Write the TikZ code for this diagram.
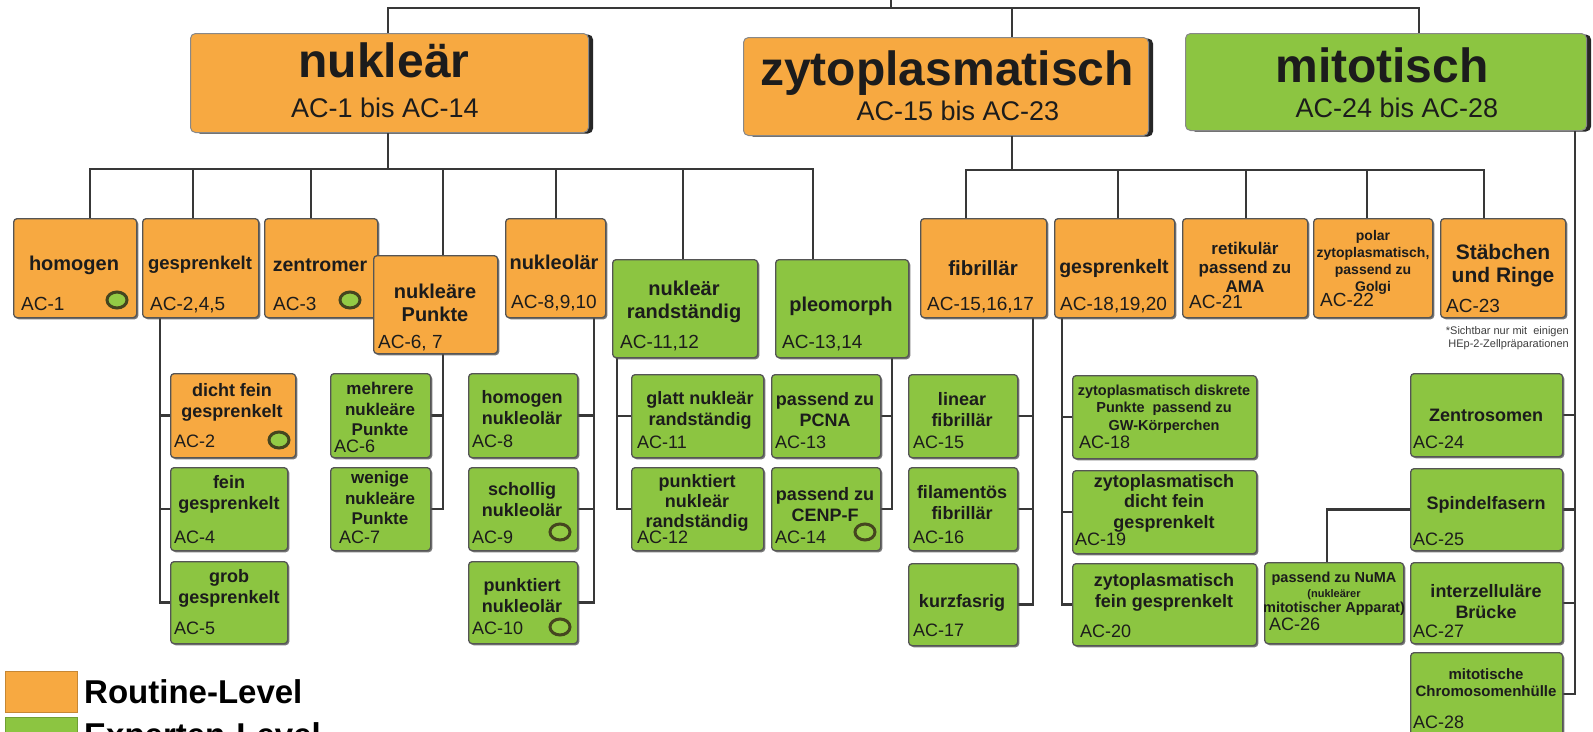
\documentclass[tikz,border=0pt]{standalone}
\usepackage{fontspec}
\setmainfont{Liberation Sans}
\usetikzlibrary{shadows,shapes.geometric}
\pgfdeclarelayer{bg}
\pgfsetlayers{bg,main}
\definecolor{orng}{HTML}{F7A941}
\definecolor{grn}{HTML}{8CC541}
\definecolor{dotg}{HTML}{93CB45}
\definecolor{lineg}{HTML}{383838}
\definecolor{edge}{HTML}{555555}
\definecolor{ring}{HTML}{45451F}
\definecolor{txt}{HTML}{1C1C1C}
\newcommand\fz[2]{\fontsize{#1}{#2}\selectfont}
\newcommand\tf[2]{\fontsize{#1}{#2}\selectfont\bfseries}
\newcommand\bx[6]{\node[#6,minimum width={#4-#2},minimum height={#5-#3},anchor=north west] (#1) at (#2,#3) {};}
\begin{document}
\begin{tikzpicture}[x=1pt,y=-1pt,
  conn/.style={draw=lineg,line width=2.5pt,line cap=rect},
  cbox/.style={draw=edge,line width=1.3pt,rounded corners=3.5pt,inner sep=0pt,
    drop shadow={shadow xshift=1.6pt,shadow yshift=-1.6pt,fill=black!70,opacity=.75}},
  ob/.style={cbox,fill=orng}, gb/.style={cbox,fill=grn},
  tbox/.style={draw=edge!70,line width=1pt,rounded corners=5pt,inner sep=0pt,
    drop shadow={shadow xshift=4.5pt,shadow yshift=-1pt,fill=black!85,opacity=1}},
  otb/.style={tbox,fill=orng}, gtb/.style={tbox,fill=grn},
  big/.style={font=\tf{48}{50},text=txt,inner sep=0pt,anchor=base},
  rng/.style={font=\fz{27}{30},text=txt,inner sep=0pt,anchor=base},
  ttl/.style={text=txt,inner sep=0pt,align=center},
  ac/.style={font=\fz{18}{20},text=txt,inner sep=0pt,anchor=base west},
  ac1/.style={ac,font=\fz{19}{21}},
  dot/.style={ellipse,draw=ring,line width=3pt,fill=dotg,minimum width=20pt,minimum height=16pt,inner sep=0pt},
  legbox/.style={minimum width=72pt,minimum height=41pt,anchor=north west,inner sep=0pt,line width=.6pt},
  legtxt/.style={font=\tf{33}{36},text=black,anchor=base west,inner sep=0pt}
]
\useasboundingbox (0,0) rectangle (1593,731);
\clip (0,0) rectangle (1593,731);

% ---------- top level ----------
\bx{nuk}{190}{33}{588}{132}{otb}
\bx{zyt}{743}{37}{1148}{135}{otb}
\bx{mit}{1185}{33}{1586}{130}{gtb}
\node[big] (nuk-t) at (384,77) {nukleär};
\node[rng] (nuk-a) at (385,117) {AC-1 bis AC-14};
\node[big] (zyt-t) at (947,85) {zytoplasmatisch};
\node[rng] (zyt-a) at (958,120) {AC-15 bis AC-23};
\node[big] (mit-t) at (1382,82) {mitotisch};
\node[rng] (mit-a) at (1397,117) {AC-24 bis AC-28};

% ---------- first row ----------
\bx{hom}{13}{218}{136}{317}{ob}
\bx{gsp}{142}{218}{258}{317}{ob}
\bx{zen}{264}{218}{377}{317}{ob}
\bx{npk}{373}{255}{497}{353}{ob}
\bx{nol}{505}{218}{605}{317}{ob}
\bx{nrd}{612}{259}{757}{357}{gb}
\bx{ple}{775}{259}{908}{357}{gb}
\bx{fib}{920}{218}{1046}{317}{ob}
\bx{gs2}{1054}{218}{1174}{317}{ob}
\bx{ret}{1182}{218}{1307}{317}{ob}
\bx{pol}{1313}{218}{1432}{317}{ob}
\bx{stb}{1440}{218}{1565}{317}{ob}

\node[ttl,font=\tf{20}{23}] (hom-t) at (74,265) {homogen};
\node[ttl,font=\tf{18.5}{21}] (gsp-t) at (200,265) {gesprenkelt};
\node[ttl,font=\tf{19.5}{22}] (zen-t) at (320,265) {zentromer};
\node[ttl,font=\tf{20}{23}] (npk-t) at (435,303) {nukleäre\\Punkte};
\node[ttl,font=\tf{20}{23}] (nol-t) at (554,262) {nukleolär};
\node[ttl,font=\tf{20}{23}] (nrd-t) at (684,302) {nukleär\\randständig};
\node[ttl,font=\tf{20}{23}] (ple-t) at (841,306) {pleomorph};
\node[ttl,font=\tf{20.5}{23}] (fib-t) at (983,268) {fibrillär};
\node[ttl,font=\tf{19.5}{22}] (gs2-t) at (1114,268) {gesprenkelt};
\node[ttl,font=\tf{17}{19}] (ret-t) at (1245,267) {retikulär\\passend zu\\AMA};
\node[ttl,font=\tf{14}{17}] (pol-t) at (1373,262) {polar\\zytoplasmatisch,\\passend zu\\Golgi};
\node[ttl,font=\tf{21}{23}] (stb-t) at (1503,266) {Stäbchen\\und Ringe};

\node[ac1] (hom-a) at (21,310) {AC-1};
\node[ac1] (gsp-a) at (150,310) {AC-2,4,5};
\node[ac1] (zen-a) at (273,310) {AC-3};
\node[ac1] (npk-a) at (378,348) {AC-6, 7};
\node[ac1] (nol-a) at (511,308) {AC-8,9,10};
\node[ac1] (nrd-a) at (620,348) {AC-11,12};
\node[ac1] (ple-a) at (782,348) {AC-13,14};
\node[ac1] (fib-a) at (927,310) {AC-15,16,17};
\node[ac1] (gs2-a) at (1060,310) {AC-18,19,20};
\node[ac1] (ret-a) at (1189,308) {AC-21};
\node[ac1] (pol-a) at (1320,306) {AC-22};
\node[ac1] (stb-a) at (1446,312) {AC-23};

\node[inner sep=0pt,anchor=north east,align=right,font=\fz{11}{13.5},text=txt!85] (fn) at (1569,326) {*Sichtbar nur mit\ \ einigen\\HEp-2-Zellpräparationen};

% ---------- sub boxes ----------
\bx{dfg}{170}{373}{295}{457}{ob}
\bx{ffg}{170}{467}{287}{550}{gb}
\bx{gfg}{170}{561}{287}{643}{gb}
\bx{mnp}{330}{373}{430}{457}{gb}
\bx{wnp}{330}{467}{430}{550}{gb}
\bx{hno}{468}{373}{577}{457}{gb}
\bx{sno}{468}{467}{577}{550}{gb}
\bx{pno}{468}{561}{577}{643}{gb}
\bx{gnr}{631}{374}{763}{457}{gb}
\bx{pnr}{631}{467}{763}{550}{gb}
\bx{pcn}{771}{374}{880}{457}{gb}
\bx{cen}{771}{467}{880}{550}{gb}
\bx{lfi}{908}{374}{1017}{457}{gb}
\bx{ffi}{908}{467}{1017}{550}{gb}
\bx{kfs}{908}{563}{1017}{645}{gb}
\bx{zdp}{1072}{375}{1256}{458}{gb}
\bx{zdf}{1072}{470}{1256}{553}{gb}
\bx{zfg}{1072}{563}{1256}{645}{gb}
\bx{zts}{1410}{373}{1562}{456}{gb}
\bx{spi}{1410}{468}{1562}{550}{gb}
\bx{num}{1264}{562}{1403}{643}{gb}
\bx{izb}{1410}{562}{1562}{643}{gb}
\bx{chr}{1410}{652}{1562}{745}{gb}

\node[ttl,font=\tf{18}{21}] (dfg-t) at (232,402) {dicht fein\\gesprenkelt};
\node[ttl,font=\tf{18}{21}] (ffg-t) at (229,494) {fein\\gesprenkelt};
\node[ttl,font=\tf{18}{21}] (gfg-t) at (229,588) {grob\\gesprenkelt};
\node[ttl,font=\tf{17}{20.5}] (mnp-t) at (380,409) {mehrere\\nukleäre\\Punkte};
\node[ttl,font=\tf{17}{20.5}] (wnp-t) at (380,498) {wenige\\nukleäre\\Punkte};
\node[ttl,font=\tf{18}{21}] (hno-t) at (522,408) {homogen\\nukleolär};
\node[ttl,font=\tf{18}{21}] (sno-t) at (522,500) {schollig\\nukleolär};
\node[ttl,font=\tf{18}{21}] (pno-t) at (522,596) {punktiert\\nukleolär};
\node[ttl,font=\tf{18}{21}] (gnr-t) at (700,410) {glatt nukleär\\randständig};
\node[ttl,font=\tf{18}{20}] (pnr-t) at (697,503) {punktiert\\nukleär\\randständig};
\node[ttl,font=\tf{18}{21}] (pcn-t) at (825,410) {passend zu\\PCNA};
\node[ttl,font=\tf{18}{21}] (cen-t) at (825,505) {passend zu\\CENP-F};
\node[ttl,font=\tf{18}{21}] (lfi-t) at (962,410) {linear\\fibrillär};
\node[ttl,font=\tf{18}{21}] (ffi-t) at (962,503) {filamentös\\fibrillär};
\node[ttl,font=\tf{18}{21}] (kfs-t) at (962,603) {kurzfasrig};
\node[ttl,font=\tf{14.5}{17.5}] (zdp-t) at (1164,409) {zytoplasmatisch diskrete\\Punkte\ \ passend zu\\GW-Körperchen};
\node[ttl,font=\tf{18}{20.5}] (zdf-t) at (1164,503) {zytoplasmatisch\\dicht fein\\gesprenkelt};
\node[ttl,font=\tf{18}{21}] (zfg-t) at (1164,592) {zytoplasmatisch\\fein gesprenkelt};
\node[ttl,font=\tf{18}{21}] (zts-t) at (1486,415) {Zentrosomen};
\node[ttl,font=\tf{18}{21}] (spi-t) at (1486,505) {Spindelfasern};
\node[ttl,font=\tf{14.5}{15}] (num-t) at (1334,594) {passend zu NuMA\\\fz{11}{15}(nukleärer\\mitotischer Apparat)};
\node[ttl,font=\tf{18}{21}] (izb-t) at (1486,602) {interzelluläre\\Brücke};
\node[ttl,font=\tf{15}{17}] (chr-t) at (1486,683) {mitotische\\Chromosomenhülle};

\node[ac] (dfg-a) at (174,447) {AC-2};
\node[ac] (ffg-a) at (174,543) {AC-4};
\node[ac] (gfg-a) at (174,634) {AC-5};
\node[ac] (mnp-a) at (334,452) {AC-6};
\node[ac] (wnp-a) at (339,543) {AC-7};
\node[ac] (hno-a) at (472,447) {AC-8};
\node[ac] (sno-a) at (472,543) {AC-9};
\node[ac] (pno-a) at (472,634) {AC-10};
\node[ac] (gnr-a) at (637,448) {AC-11};
\node[ac] (pnr-a) at (637,543) {AC-12};
\node[ac] (pcn-a) at (775,448) {AC-13};
\node[ac] (cen-a) at (775,543) {AC-14};
\node[ac] (lfi-a) at (913,448) {AC-15};
\node[ac] (ffi-a) at (913,543) {AC-16};
\node[ac] (kfs-a) at (913,636) {AC-17};
\node[ac] (zdp-a) at (1079,448) {AC-18};
\node[ac] (zdf-a) at (1075,545) {AC-19};
\node[ac] (zfg-a) at (1080,637) {AC-20};
\node[ac] (zts-a) at (1413,448) {AC-24};
\node[ac] (spi-a) at (1413,545) {AC-25};
\node[ac] (num-a) at (1269,630) {AC-26};
\node[ac] (izb-a) at (1413,637) {AC-27};
\node[ac] (chr-a) at (1413,728) {AC-28};

% ---------- indicator dots ----------
\node[dot] (hom-c) at (117,300) {};
\node[dot] (zen-c) at (350,300) {};
\node[dot] (dfg-c) at (279,440) {};
\node[dot] (sno-c) at (560,532) {};
\node[dot] (pno-c) at (560,627) {};
\node[dot] (cen-c) at (865,532) {};

% ---------- legend ----------
\node[legbox,fill=orng,draw=orng!80!black] (lgo) at (5,671) {};
\node[legtxt] (lgo-t) at (84,703) {Routine-Level};
\node[legbox,fill=grn,draw=grn!80!black] (lgg) at (5,717) {};
\node[legtxt] (lgg-t) at (84,746) {Experten-Level};

% ---------- connectors ----------
\begin{pgfonlayer}{bg}
\fill[white] (0,0) rectangle (1593,731);
\coordinate (root) at (891,0);
\coordinate (tl) at (388,8);
\coordinate (tm) at (891,8);
\coordinate (tz) at (1012,8);
\coordinate (tr) at (1419,8);
\draw[conn] (root) -- (tm);
\draw[conn] (nuk.north -| tl) -- (tl) -- (tr) -- (mit.north -| tr);
\draw[conn] (tz) -- (zyt.north -| tz);
% nuklear bar
\coordinate (nb) at (388,169);
\draw[conn] (nuk.south -| nb) -- (nb);
\coordinate (n1) at (90,169);
\coordinate (n2) at (193,169);
\coordinate (n3) at (311,169);
\coordinate (n4) at (443,169);
\coordinate (n5) at (556,169);
\coordinate (n6) at (683,169);
\coordinate (n7) at (813,169);
\draw[conn] (n1) -- (n7);
\foreach \c/\n in {n1/hom,n2/gsp,n3/zen,n4/npk,n5/nol,n6/nrd,n7/ple}
  \draw[conn] (\c) -- (\n.north -| \c);
% zytoplasmatisch bar
\coordinate (zb) at (1012,170);
\draw[conn] (zyt.south -| zb) -- (zb);
\coordinate (z1) at (966,170);
\coordinate (z2) at (1118,170);
\coordinate (z3) at (1246,170);
\coordinate (z4) at (1367,170);
\coordinate (z5) at (1484,170);
\draw[conn] (z1) -- (z5);
\foreach \c/\n in {z1/fib,z2/gs2,z3/ret,z4/pol,z5/stb}
  \draw[conn] (\c) -- (\n.north -| \c);
% sub trees
\coordinate (v1) at (160,0);
\draw[conn] (gsp.south -| v1) |- (gfg.west);
\foreach \n in {dfg,ffg} \draw[conn] (v1 |- \n.west) -- (\n.west);
\coordinate (v2) at (443,0);
\draw[conn] (npk.south -| v2) |- (wnp.east);
\draw[conn] (v2 |- mnp.east) -- (mnp.east);
\coordinate (v3) at (594,0);
\draw[conn] (nol.south -| v3) |- (pno.east);
\foreach \n in {hno,sno} \draw[conn] (v3 |- \n.east) -- (\n.east);
\coordinate (v4) at (617,0);
\draw[conn] (nrd.south -| v4) |- (pnr.west);
\draw[conn] (v4 |- gnr.west) -- (gnr.west);
\coordinate (v5) at (892,0);
\draw[conn] (ple.south -| v5) |- (cen.east);
\draw[conn] (v5 |- pcn.east) -- (pcn.east);
\coordinate (v6) at (1033,0);
\draw[conn] (fib.south -| v6) |- (kfs.east);
\foreach \n in {lfi,ffi} \draw[conn] (v6 |- \n.east) -- (\n.east);
\coordinate (v7) at (1062,0);
\draw[conn] (gs2.south -| v7) |- (zfg.west);
\foreach \n in {zdp,zdf} \draw[conn] (v7 |- \n.west) -- (\n.west);
\coordinate (v8) at (1575,0);
\draw[conn] (mit.south -| v8) |- ([yshift=5pt]chr.east);
\foreach \n in {zts,spi,izb} \draw[conn] (v8 |- \n.east) -- (\n.east);
\coordinate (v9) at (1327,0);
\draw[conn] (spi.west) -| (num.north -| v9);
\end{pgfonlayer}
\end{tikzpicture}
\end{document}
